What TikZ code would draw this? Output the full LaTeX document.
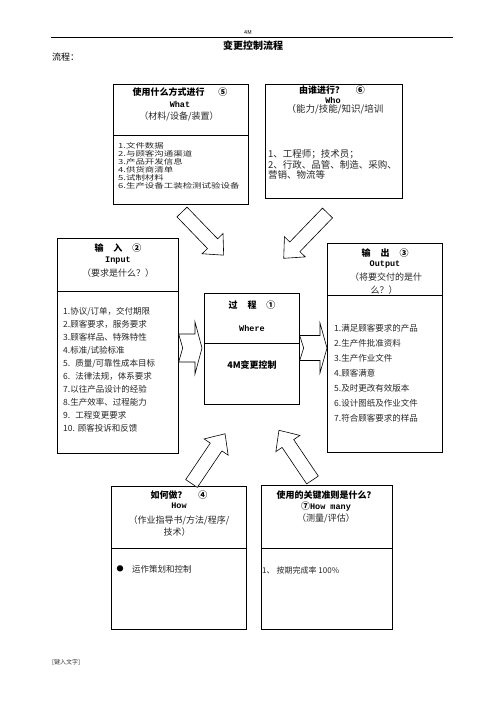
\documentclass[tikz,border=0pt]{standalone}
\usepackage{fontspec}
\setmainfont{Noto Sans CJK SC}
\setmonofont{Liberation Mono}
\newfontfamily\widecjk[FakeStretch=1.35]{Noto Sans CJK SC}
\usetikzlibrary{calc}
\newcommand{\blockarr}[3]{%
  \draw[blk, shift={(#1)}, rotate=#2] (0,-7) -- (#3-16,-7) -- (#3-16,-14.5) -- (#3,0) -- (#3-16,14.5) -- (#3-16,7) -- (0,7) -- cycle;}
\begin{document}
\begin{tikzpicture}[x=1pt,y=1pt,
  box/.style={draw, line width=0.7pt, rectangle, anchor=north west, inner sep=0pt},
  divl/.style={line width=0.7pt},
  blk/.style={draw, fill=white, line width=0.6pt, line join=miter},
  ttl/.style={font=\fontsize{9}{10}\selectfont\bfseries, inner sep=0pt},
  eng/.style={font=\fontsize{8.5}{9}\selectfont\ttfamily\bfseries, inner sep=0pt},
  par/.style={font=\fontsize{9}{10}\selectfont, inner sep=0pt, text=black!85},
  item/.style={font=\fontsize{8.5}{10}\selectfont, inner sep=0pt, anchor=base west, text=black!85},
  witem/.style={font=\fontsize{7}{7}\widecjk\selectfont, inner sep=0pt, anchor=base west, text=black!85},
  whoitem/.style={font=\fontsize{9.5}{10}\selectfont, inner sep=0pt, anchor=base west, text=black!85}]
\useasboundingbox (0,0) rectangle (496,-702);
\fill[white] (0,0) rectangle (496,-702);

% header
\node[inner sep=0pt, font=\fontsize{5.5}{6}\selectfont] (hdr) at (248,-32) {4M};
\coordinate (hl1) at (51,-37);
\coordinate (hl2) at (453,-37);
\draw[line width=0.8pt] (hl1) -- (hl2);
\node[inner sep=0pt, font=\fontsize{10}{11}\selectfont\bfseries] (title) at (253,-46) {变更控制流程};
\node[inner sep=0pt, anchor=west, font=\fontsize{9}{10}\selectfont] (liu) at (52,-57) {流程：};
\node[inner sep=0pt, anchor=west, font=\fontsize{6}{7}\selectfont, text=black!80] (foot) at (52,-662) {[键入文字]};

% boxes
\node[box, minimum width=135pt, minimum height=120pt] (what) at (113,-84) {};
\node[box, minimum width=137pt, minimum height=114pt] (who) at (265,-84) {};
\node[box, minimum width=121pt, minimum height=215pt] (input) at (57,-238) {};
\node[box, minimum width=95pt, minimum height=111pt] (proc) at (204,-293) {};
\node[box, minimum width=115pt, minimum height=209pt] (output) at (327,-243) {};
\node[box, minimum width=135pt, minimum height=143pt] (how) at (111,-486) {};
\node[box, minimum width=131pt, minimum height=144pt] (many) at (261,-485) {};

% dividers
\draw[divl] (what.west |- 0,-135) -- (what.east |- 0,-135);
\draw[divl] (input.west |- 0,-291) -- (input.east |- 0,-291);
\draw[divl] (proc.west |- 0,-343) -- (proc.east |- 0,-343);
\draw[divl] (output.west |- 0,-295) -- (output.east |- 0,-295);
\draw[divl] (how.west |- 0,-548) -- (how.east |- 0,-548);
\draw[divl] (many.west |- 0,-548) -- (many.east |- 0,-548);

% What
\node[ttl] (whatT) at (180,-92) {使用什么方式进行\hspace{14pt}⑤};
\node[eng] (whatE) at (180,-104) {What};
\node[par] (whatP) at (179,-116) {（材料/设备/装置）};
\foreach \t [count=\i from 0] in {1.文件数据, 2.与顾客沟通渠道, 3.产品开发信息, 4.供货商清单, 5.试制材料, 6.生产设备工装检测试验设备}
  \node[witem] (whatI\i) at (118,-148.5-7.9*\i) {\t};

% Who
\node[ttl] (whoT) at (332,-90) {由谁进行？\hspace{12pt}⑥};
\node[eng] (whoE) at (333,-100) {Who};
\node[par, font=\fontsize{9.5}{10}\selectfont] (whoP) at (335,-109) {（能力/技能/知识/培训};
\node[whoitem] (whoI0) at (268,-157.5) {1、工程师；技术员；};
\node[whoitem] (whoI1) at (268,-168.5) {2、行政、品管、制造、采购、};
\node[whoitem] (whoI2) at (268,-178.5) {营销、物流等};

% Input
\node[ttl] (inT) at (118,-248) {输\hspace{10pt}入\hspace{10pt}②};
\node[eng] (inE) at (118,-261) {Input};
\node[par] (inP) at (118,-273) {（要求是什么？）};
\foreach \t [count=\i from 0] in {1.协议/订单，交付期限, 2.顾客要求，服务要求, 3.顾客样品、特殊特性, 4.标准/试验标准, 5.\hspace{5pt}质量/可靠性成本目标, 6.\hspace{5pt}法律法规，体系要求, 7.以往产品设计的经验, 8.生产效率、过程能力, 9.\hspace{5pt}工程变更要求, 10.\hspace{3pt}顾客投诉和反馈}
  \node[item] (inI\i) at (63,-314.3-13*\i) {\t};

% Process
\node[ttl] (prT) at (252,-305) {过\hspace{10pt}程\hspace{10pt}①};
\node[eng] (prE) at (252,-328) {Where};
\node[ttl] (prM) at (252,-365) {4M变更控制};

% Output
\node[ttl] (outT) at (385,-253) {输\hspace{10pt}出\hspace{10pt}③};
\node[eng] (outE) at (385,-265) {Output};
\node[par] (outP1) at (386,-277.5) {（将要交付的是什};
\node[par] (outP2) at (384,-290) {么？）};
\foreach \t [count=\i from 0] in {1.满足顾客要求的产品, 2.生产件批准资料, 3.生产作业文件, 4.顾客满意, 5.及时更改有效版本, 6.设计图纸及作业文件, 7.符合顾客要求的样品}
  \node[item] (outI\i) at (334,-331.3-15*\i) {\t};

% How
\node[ttl] (howT) at (179,-495) {如何做？\hspace{12pt}④};
\node[eng] (howE) at (179,-505.5) {How};
\node[par] (howP1) at (179,-520) {（作业指导书/方法/程序/};
\node[par] (howP2) at (177,-532) {技术）};
\node[inner sep=0pt, font=\fontsize{7}{7}\selectfont] (bul) at (120,-569) {●};
\node[item, anchor=west] (howI) at (132,-569) {运作策划和控制};

% How many
\node[ttl] (manyT) at (326,-495) {使用的关键准则是什么？};
\node[inner sep=0pt] (manyE) at (326,-507) {{\fontsize{9}{10}\selectfont\bfseries ⑦}{\fontsize{8.5}{9}\selectfont\ttfamily\bfseries How many}};
\node[par] (manyP) at (326,-518) {（测量/评估）};
\node[item, anchor=west, font=\fontsize{8}{10}\selectfont] (manyI) at (262,-570) {1、\hspace{2pt}按期完成率 100\%};

% diagonal block arrows
\coordinate (a1) at (182,-212);
\coordinate (a2) at (327.5,-213);
\coordinate (a4) at (191.5,-483.5);
\coordinate (a5) at (312.5,-480);
\blockarr{a1}{-46}{60}
\blockarr{a2}{-134}{63}
\blockarr{a4}{56}{60}
\blockarr{a5}{124}{60}

% horizontal notched arrows
\coordinate (ia) at (input.east |- 0,-348);
\coordinate (ib) at ($(proc.west |- 0,-348)+(-2,0)$);
\coordinate (oa) at (proc.east |- 0,-348);
\coordinate (ob) at (output.west |- 0,-348);
\draw[blk] ($(ia)+(0,14)$) -- ($(ib)+(-7,14)$) -- ($(ib)+(-7,26)$) -- (ib) -- ($(ib)+(-7,-26)$) -- ($(ib)+(-7,-14)$) -- ($(ia)+(0,-14)$) -- ($(ia)+(4,0)$) -- cycle;
\draw[blk] ($(oa)+(0,12.5)$) -- ($(ob)+(-7,12.5)$) -- ($(ob)+(-7,25)$) -- (ob) -- ($(ob)+(-7,-25)$) -- ($(ob)+(-7,-12.5)$) -- ($(oa)+(0,-12.5)$) -- ($(oa)+(4,0)$) -- cycle;
\end{tikzpicture}
\end{document}
